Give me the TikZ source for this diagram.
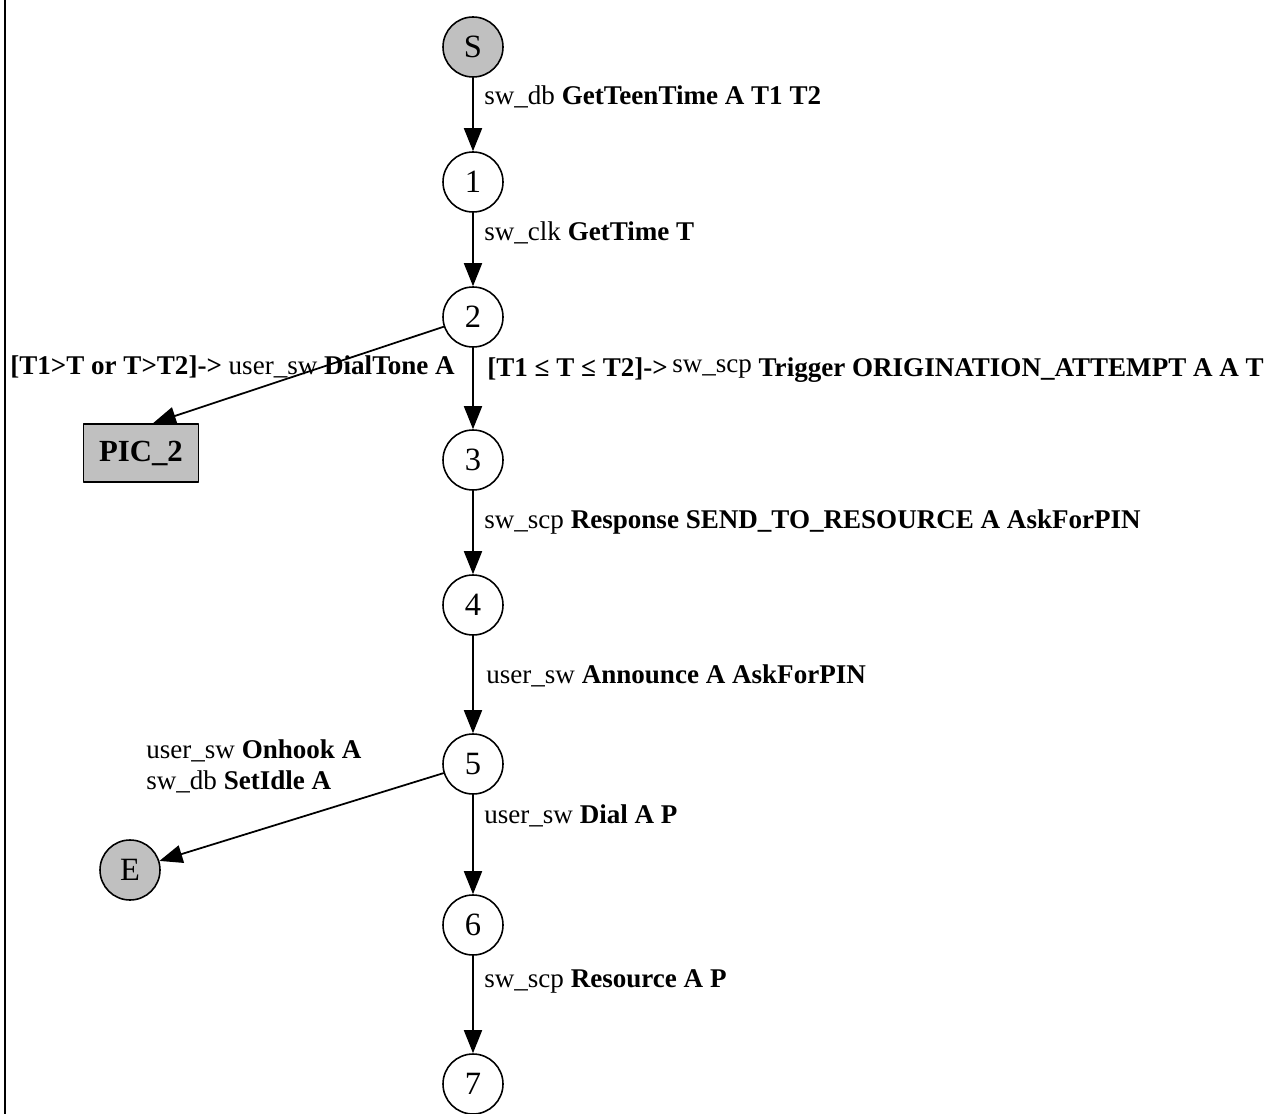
\documentclass[tikz,border=0pt]{standalone}
\usepackage{fontspec}
\setmainfont{Liberation Serif}
\usepackage{xcolor}
\usetikzlibrary{arrows.meta}
\definecolor{termgray}{HTML}{C0C0C0}
\tikzset{
  state/.style={circle, draw, line width=0.9pt, minimum size=1.2cm, inner sep=0pt, font=\fontsize{18.5}{21}\selectfont},
  termstate/.style={state, fill=termgray},
  picbox/.style={rectangle, draw, fill=termgray, line width=0.9pt, minimum width=2.3cm, minimum height=1.16cm, font=\bfseries\fontsize{17.5}{20}\selectfont},
  lbl/.style={anchor=west, inner sep=0pt, font=\fontsize{15.4}{18}\selectfont},
  edge/.style={line width=1pt, -{Triangle[length=0.46cm,width=0.36cm]}},
  every picture/.style={line cap=round, line join=round}
}

\begin{document}
\begin{tikzpicture}[x=0.02cm, y=-0.02cm]
  \useasboundingbox (0,0) rectangle (1270,1114);
  \draw[line width=1.2pt, line cap=butt] (5,0) -- (5,1114);

  % states
  \node[termstate] (s) at (473,47) {S};
  \node[state] (n1) at (473,182) {1};
  \node[state] (n2) at (473,317) {2};
  \node[state] (n3) at (473,460) {3};
  \node[state] (n4) at (473,605) {4};
  \node[state] (n5) at (473,764) {5};
  \node[state] (n6) at (473,925) {6};
  \node[state] (n7) at (473,1084) {7};
  \node[picbox] (pic2) at (141,453) {PIC\_2};
  \node[termstate] (e) at (130,870) {E};

  % transitions
  \draw[edge] (s) -- (n1);
  \draw[edge] (n1) -- (n2);
  \draw[edge] (n2) -- ([xshift=0.24cm]pic2.north);
  \draw[edge] (n2) -- (n3);
  \draw[edge] (n3) -- (n4);
  \draw[edge] (n4) -- (n5);
  \draw[edge] (n5) -- (e);
  \draw[edge] (n5) -- (n6);
  \draw[edge] (n6) -- (n7);

  % labels
  \node[lbl] (l1) at (484,97) {sw\_db \textbf{GetTeenTime A T1 T2}};
  \node[lbl] (l2) at (484,233) {sw\_clk \textbf{GetTime T}};
  \node[lbl] (l3) at (10,367) {\textbf{[T1>T or T>T2]->} user\_sw \textbf{DialTone A}};
  \node[lbl] (l4) at (487,370) {\textbf{[T1 ≤ T ≤ T2]->}\,\raisebox{2pt}{sw\_scp} \textbf{Trigger ORIGINATION\_ATTEMPT A A T}};
  \node[lbl] (l5) at (484,522) {sw\_scp \textbf{Response SEND\_TO\_RESOURCE A AskForPIN}};
  \node[lbl] (l6) at (486,676) {user\_sw \textbf{Announce A AskForPIN}};
  \node[lbl, anchor=south west] (l7) at (146,762) {user\_sw \textbf{Onhook A}};
  \node[lbl, anchor=north west] (l8) at (146,770) {sw\_db \textbf{SetIdle A}};
  \node[lbl] (l9) at (484,816) {user\_sw \textbf{Dial A P}};
  \node[lbl] (l10) at (484,981) {sw\_scp \textbf{Resource A P}};
\end{tikzpicture}
\end{document}
